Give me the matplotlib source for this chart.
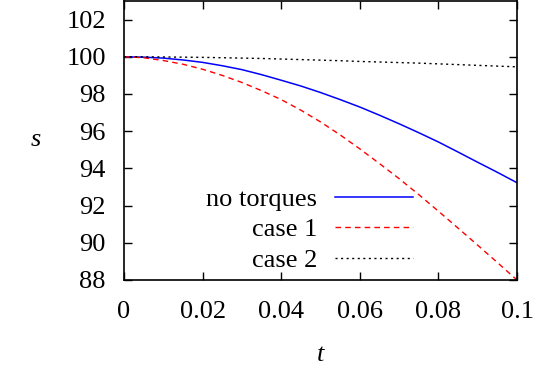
import matplotlib
matplotlib.use("Agg")
import matplotlib.pyplot as plt

# values
t = [0.0, 0.005, 0.01, 0.015, 0.02, 0.025, 0.03, 0.035, 0.04, 0.045, 0.05,
     0.055, 0.06, 0.065, 0.07, 0.075, 0.08, 0.085, 0.09, 0.095, 0.1]
s_none = [100.0, 99.98, 99.93, 99.83, 99.70, 99.52, 99.31, 99.04, 98.74, 98.43, 98.08,
          97.70, 97.30, 96.86, 96.40, 95.92, 95.42, 94.88, 94.33, 93.79, 93.23]
s_case1 = [100.0, 99.95, 99.80, 99.60, 99.33, 99.00, 98.62, 98.18, 97.70, 97.13, 96.50,
           95.80, 95.05, 94.26, 93.45, 92.59, 91.70, 90.79, 89.87, 88.94, 88.0]
s_case2 = [100.0, 100.0, 99.99, 99.98, 99.97, 99.95, 99.93, 99.91, 99.88, 99.85, 99.82,
           99.79, 99.75, 99.72, 99.69, 99.66, 99.62, 99.58, 99.54, 99.50, 99.46]

xticks = [0, 0.02, 0.04, 0.06, 0.08, 0.1]
xticklabels = ["0", "0.02", "0.04", "0.06", "0.08", "0.1"]
yticks = [88, 90, 92, 94, 96, 98, 100, 102]

plt.rcParams["font.family"] = ["Liberation Serif", "DejaVu Serif"]
plt.rcParams["mathtext.fontset"] = "custom"
plt.rcParams["mathtext.it"] = "Liberation Serif:italic"

fig = plt.figure(figsize=(5.41, 3.71), dpi=100)
ax = fig.add_axes([124 / 541, 1 - 280 / 371, 393 / 541, 279 / 371])

ax.plot(t, s_none, color="#0000ff", lw=1.1, label="no torques")
ax.plot(t, s_case1, color="#ff0000", lw=1.0, dashes=(4, 3), label="case 1")
ax.plot(t, s_case2, color="black", lw=1.0, dashes=(1.5, 2.5), label="case 2")

ax.set_xlim(0, 0.1)
ax.set_ylim(88, 103)
ax.set_xticks(xticks)
ax.set_xticklabels(xticklabels)
ax.set_yticks(yticks)
ax.tick_params(direction="in", length=6, width=1, labelsize=19,
               top=True, right=True)
ax.tick_params(axis="x", pad=15)
ax.tick_params(axis="y", pad=13)
for sp in ax.spines.values():
    sp.set_linewidth(1.2)

ax.set_xlabel("$t$", fontsize=19, labelpad=15)
ax.set_ylabel("$s$", fontsize=19, rotation=0, labelpad=22, va="center")

leg = ax.legend(loc="lower right", markerfirst=False, frameon=False,
                fontsize=19, handlelength=2.95, handletextpad=0.68,
                labelspacing=0.27, borderpad=0, borderaxespad=0,
                bbox_to_anchor=(413 / 541, 1 - 272 / 371),
                bbox_transform=fig.transFigure)

fig.savefig("out.png", dpi=100)
